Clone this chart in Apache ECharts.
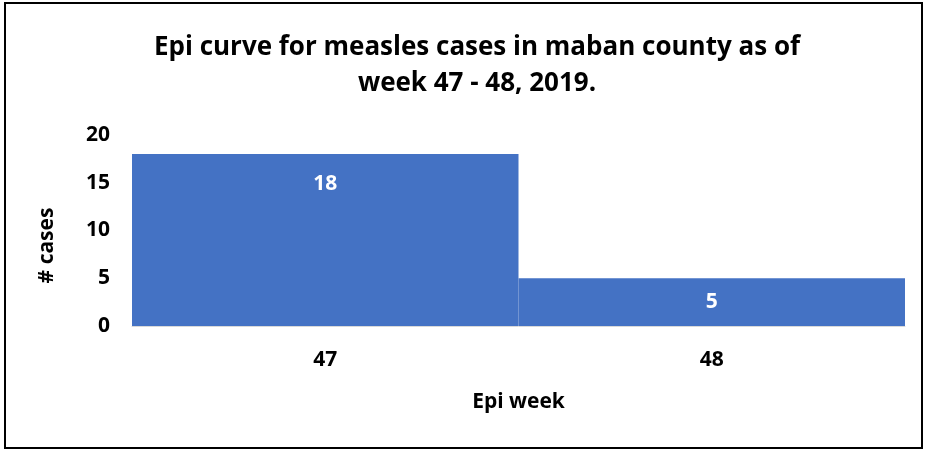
<!DOCTYPE html>
<html><head><meta charset="utf-8">
<script src="https://cdn.jsdelivr.net/npm/echarts@6/dist/echarts.min.js"></script>
<style>html,body{margin:0;padding:0;background:#fff}#c{width:926px;height:451px}</style>
</head><body><div id="c"></div>
<script>
const titleLines = ['Epi curve for measles cases in maban county as of', 'week 47 - 48, 2019.'];
const categories = ['47', '48'];
const cases = [18, 5];
const yTicks = [0, 5, 10, 15, 20];
const xAxisName = 'Epi week';
const yAxisName = '# cases';

const FONT = '"Open Sans", Lato, sans-serif';
const chart = echarts.init(document.getElementById('c'));
const labelPos = ['insideTop', 'inside'];
chart.setOption({
  animation: false,
  title: {
    text: titleLines.join('\n'),
    left: 472, top: 25, textAlign: 'center',
    textStyle: {fontFamily: FONT, fontWeight: 'bold', fontSize: 26, lineHeight: 36, color: '#000'}
  },
  graphic: [{type: 'rect', shape: {x: 5, y: 3, width: 917, height: 445}, style: {fill: 'none', stroke: '#000', lineWidth: 2}, silent: true}],
  grid: {left: 132, right: 21, top: 135, bottom: 125},
  xAxis: {
    type: 'category', data: categories,
    axisLine: {lineStyle: {color: '#d9d9d9'}}, axisTick: {show: false},
    axisLabel: {fontFamily: FONT, fontWeight: 'bold', fontSize: 21, color: '#000', margin: 24},
    name: xAxisName, nameLocation: 'middle', nameGap: 66,
    nameTextStyle: {fontFamily: FONT, fontWeight: 'bold', fontSize: 21, color: '#000'}
  },
  yAxis: {
    type: 'value', min: yTicks[0], max: yTicks[yTicks.length - 1], interval: yTicks[1] - yTicks[0],
    splitLine: {show: false}, axisLine: {show: false}, axisTick: {show: false},
    axisLabel: {fontFamily: FONT, fontWeight: 'bold', fontSize: 21, color: '#000', margin: 22},
    name: yAxisName, nameLocation: 'middle', nameGap: 74,
    nameTextStyle: {fontFamily: FONT, fontWeight: 'bold', fontSize: 21, color: '#000', padding: [0, 30, 0, 0]}
  },
  series: [{
    type: 'bar', barCategoryGap: '0%',
    itemStyle: {color: '#4472C4'},
    data: cases.map((v, i) => ({value: v, label: {position: labelPos[i], distance: 19}})),
    label: {show: true, color: '#fff', fontFamily: FONT, fontWeight: 'bold', fontSize: 21}
  }]
});
</script></body></html>
